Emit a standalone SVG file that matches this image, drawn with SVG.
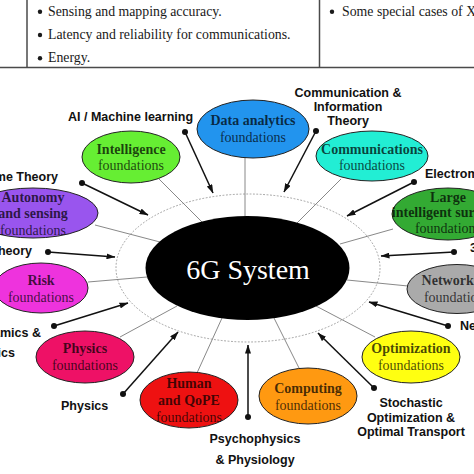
<svg xmlns="http://www.w3.org/2000/svg" width="474" height="474" viewBox="0 0 474 474">
<style>
.tbl{font-family:"Liberation Serif","Times New Roman",serif;font-size:13.8px;fill:#1a1a1a}
.tl{stroke:#4a4a4a;stroke-width:1.5;fill:none}
.spoke{stroke:#7a7a7a;stroke-width:0.9;fill:none}
.node{stroke:#222;stroke-width:1}
.nt{font-family:"Liberation Serif","Times New Roman",serif;font-size:14px;fill:#000;fill-opacity:0.72;text-anchor:middle}
.b{font-weight:bold}
.lbl{font-family:"Liberation Sans",Arial,sans-serif;font-size:12.5px;font-weight:bold;fill:#111}
.mid{text-anchor:middle}
.end{text-anchor:end}
.arr{stroke:#111;stroke-width:1.5;fill:none;marker-end:url(#ah)}
.dot{fill:#111}
</style>
<defs>
<marker id="ah" markerUnits="userSpaceOnUse" markerWidth="9" markerHeight="6" refX="8.5" refY="3" orient="auto">
<path d="M0,0 L9,3 L0,6 z" fill="#111"/>
</marker>
</defs>
<rect width="474" height="474" fill="#fff"/>
<g id="table">
<line class="tl" x1="0" y1="67.5" x2="474" y2="67.5"/>
<line class="tl" x1="27" y1="0" x2="27" y2="67.5"/>
<line class="tl" x1="319.5" y1="0" x2="319.5" y2="67.5"/>
<circle cx="40" cy="11.7" r="2.2" fill="#1a1a1a"/>
<circle cx="40" cy="35" r="2.2" fill="#1a1a1a"/>
<circle cx="40" cy="58.3" r="2.2" fill="#1a1a1a"/>
<circle cx="332" cy="11.7" r="2.2" fill="#1a1a1a"/>
<text class="tbl" x="48" y="16">Sensing and mapping accuracy.</text>
<text class="tbl" x="48" y="39">Latency and reliability for communications.</text>
<text class="tbl" x="48" y="62">Energy.</text>
<text class="tbl" x="342" y="16">Some special cases of X</text>
</g>
<g id="connectors">
<ellipse cx="248" cy="268" rx="132" ry="74" fill="none" stroke="#8a8a8a" stroke-width="0.8" stroke-dasharray="1.8,1.6"/>
<line class="spoke" x1="245" y1="157" x2="245" y2="218"/>
<line class="spoke" x1="159" y1="179" x2="202" y2="222"/>
<line class="spoke" x1="341" y1="179" x2="297" y2="223"/>
<line class="spoke" x1="393" y1="229" x2="340" y2="244"/>
<line class="spoke" x1="347" y1="280" x2="408" y2="286"/>
<line class="spoke" x1="316" y1="306" x2="375" y2="337"/>
<line class="spoke" x1="274" y1="318" x2="300" y2="370"/>
<line class="spoke" x1="222" y1="318" x2="197" y2="373"/>
<line class="spoke" x1="177" y1="306" x2="120" y2="337"/>
<line class="spoke" x1="147" y1="277" x2="88" y2="282"/>
<line class="spoke" x1="160" y1="242" x2="95" y2="225"/>
<line class="arr" x1="185" y1="132" x2="213" y2="193"/>
<line class="arr" x1="316" y1="131" x2="284" y2="192"/>
<line class="arr" x1="414" y1="182" x2="347" y2="216"/>
<line class="arr" x1="454" y1="252" x2="381" y2="256"/>
<line class="arr" x1="448" y1="326" x2="369" y2="302"/>
<line class="arr" x1="374" y1="388" x2="318" y2="333"/>
<line class="arr" x1="248" y1="417" x2="248" y2="345"/>
<line class="arr" x1="123" y1="394" x2="178" y2="332"/>
<line class="arr" x1="54" y1="326" x2="128" y2="303"/>
<line class="arr" x1="48" y1="252" x2="115" y2="257"/>
<line class="arr" x1="82" y1="183" x2="148" y2="215"/>
<circle class="dot" cx="185" cy="132" r="3"/>
<circle class="dot" cx="316" cy="131" r="3"/>
<circle class="dot" cx="414" cy="182" r="3"/>
<circle class="dot" cx="454" cy="252" r="3"/>
<circle class="dot" cx="448" cy="326" r="3"/>
<circle class="dot" cx="374" cy="388" r="3"/>
<circle class="dot" cx="248" cy="417" r="3"/>
<circle class="dot" cx="123" cy="394" r="3"/>
<circle class="dot" cx="54" cy="326" r="3"/>
<circle class="dot" cx="48" cy="252" r="3"/>
<circle class="dot" cx="82" cy="183" r="3"/>
</g>
<g id="labels">
<text class="lbl" x="68" y="121">AI / Machine learning</text>
<text class="lbl mid" x="348" y="97">Communication &amp;</text>
<text class="lbl mid" x="348" y="111">Information</text>
<text class="lbl mid" x="348" y="125">Theory</text>
<text class="lbl" x="425" y="178">Electromagnetics</text>
<text class="lbl" x="470" y="252">3D</text>
<text class="lbl" x="460" y="330">Networking</text>
<text class="lbl mid" x="411" y="407">Stochastic</text>
<text class="lbl mid" x="411" y="422">Optimization &amp;</text>
<text class="lbl mid" x="411" y="436">Optimal Transport</text>
<text class="lbl mid" x="255" y="443">Psychophysics</text>
<text class="lbl mid" x="255" y="464">&amp; Physiology</text>
<text class="lbl" x="61" y="410">Physics</text>
<text class="lbl end" x="41" y="337">Thermodynamics &amp;</text>
<text class="lbl end" x="15" y="357">Statistics</text>
<text class="lbl end" x="32" y="255">Theory</text>
<text class="lbl end" x="58" y="181">Game Theory</text>
</g>
<g id="center">
<ellipse cx="247.5" cy="268" rx="102" ry="52" fill="#000"/>
<text x="248" y="279" font-family="'Liberation Serif','Times New Roman',serif" font-size="28" fill="#fff" text-anchor="middle">6G System</text>
</g>
<g id="n-data">
<ellipse class="node" cx="253" cy="129" rx="56" ry="29" fill="#2294ee"/>
<text class="nt b" x="253" y="125">Data analytics</text>
<text class="nt" x="253" y="142">foundations</text>
</g>
<g id="n-intelligence">
<ellipse class="node" cx="131" cy="157" rx="49" ry="26" fill="#66ee33"/>
<text class="nt b" x="131" y="154">Intelligence</text>
<text class="nt" x="131" y="170">foundations</text>
</g>
<g id="n-comm">
<ellipse class="node" cx="372" cy="156" rx="56" ry="25" fill="#22eed4"/>
<text class="nt b" x="372" y="154">Communications</text>
<text class="nt" x="372" y="170">foundations</text>
</g>
<g id="n-lis">
<ellipse class="node" cx="448" cy="214" rx="56" ry="26" fill="#33aa33"/>
<text class="nt b" x="448" y="202">Large</text>
<text class="nt b" x="448" y="217">intelligent surfaces</text>
<text class="nt" x="448" y="233">foundations</text>
</g>
<g id="n-network">
<ellipse class="node" cx="457" cy="289" rx="50" ry="24.5" fill="#aaaaaa"/>
<text class="nt b" x="457" y="285">Networking</text>
<text class="nt" x="457" y="302">foundations</text>
</g>
<g id="n-optimization">
<ellipse class="node" cx="411" cy="357" rx="49" ry="26" fill="#ffff11"/>
<text class="nt b" x="411" y="353">Optimization</text>
<text class="nt" x="411" y="370">foundations</text>
</g>
<g id="n-computing">
<ellipse class="node" cx="308" cy="396" rx="49" ry="28" fill="#ff9911"/>
<text class="nt b" x="308" y="393">Computing</text>
<text class="nt" x="308" y="410">foundations</text>
</g>
<g id="n-human">
<ellipse class="node" cx="189" cy="400" rx="49" ry="28" fill="#ee1111"/>
<text class="nt b" x="189" y="388">Human</text>
<text class="nt b" x="189" y="405">and QoPE</text>
<text class="nt" x="189" y="422">foundations</text>
</g>
<g id="n-physics">
<ellipse class="node" cx="85" cy="357" rx="49" ry="26" fill="#ee1166"/>
<text class="nt b" x="85" y="353">Physics</text>
<text class="nt" x="85" y="370">foundations</text>
</g>
<g id="n-risk">
<ellipse class="node" cx="41" cy="288" rx="47" ry="25" fill="#ee33dd"/>
<text class="nt b" x="41" y="285">Risk</text>
<text class="nt" x="41" y="302">foundations</text>
</g>
<g id="n-autonomy">
<ellipse class="node" cx="33" cy="213" rx="65" ry="25" fill="#9955ee"/>
<text class="nt b" x="33" y="202">Autonomy</text>
<text class="nt b" x="33" y="218">and sensing</text>
<text class="nt" x="33" y="235">foundations</text>
</g>
</svg>
